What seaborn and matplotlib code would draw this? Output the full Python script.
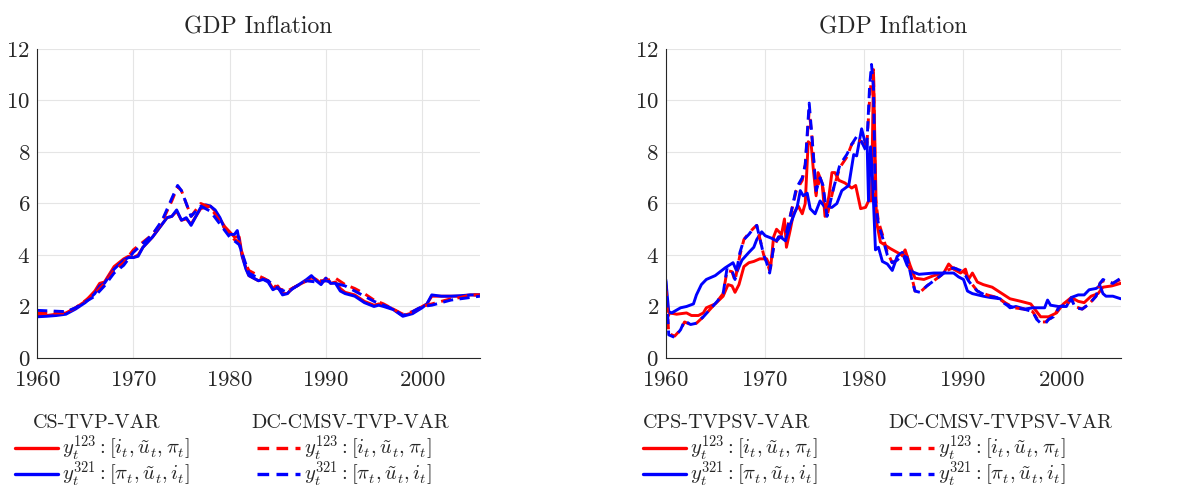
import matplotlib
matplotlib.use("Agg")
import matplotlib.pyplot as plt
from matplotlib.lines import Line2D
import seaborn as sns

# ---- left panel: CS-TVP-VAR vs DC-CMSV-TVP-VAR ----
l_red_x = [1960, 1961, 1962, 1963, 1964, 1965, 1966, 1966.5, 1967, 1968, 1969, 1969.5, 1970, 1970.5, 1971, 1972,
           1973, 1973.5, 1974, 1974.5, 1975, 1975.5, 1976, 1976.5, 1977, 1977.5, 1978, 1978.5, 1979, 1979.5, 1980,
           1980.5, 1981, 1981.3, 1981.7, 1982, 1983, 1983.5, 1984, 1984.5, 1985, 1985.5, 1986, 1986.5, 1987, 1988,
           1988.5, 1989, 1989.5, 1990, 1990.5, 1991, 1991.5, 1992, 1993, 1994, 1995, 1995.5, 1996, 1997, 1998,
           1999, 2000, 2000.5, 2001, 2002, 2003, 2004, 2005, 2006]
l_red_y = [1.65, 1.65, 1.7, 1.75, 1.95, 2.2, 2.6, 2.9, 2.95, 3.55, 3.85, 3.95, 3.9, 4.0, 4.3, 4.7,
           5.2, 5.45, 5.5, 5.7, 5.35, 5.4, 5.2, 5.5, 5.8, 5.85, 5.9, 5.7, 5.4, 5.1, 4.9,
           4.7, 4.7, 4.0, 3.5, 3.2, 3.0, 3.1, 3.0, 2.7, 2.8, 2.5, 2.5, 2.7, 2.8, 3.0,
           3.15, 3.05, 2.9, 3.1, 2.9, 2.95, 2.7, 2.55, 2.45, 2.2, 2.05, 2.1, 2.05, 1.9, 1.65,
           1.75, 2.0, 2.1, 2.4, 2.4, 2.4, 2.4, 2.45, 2.45]

l_blue_x = [1960, 1961, 1962, 1963, 1964, 1965, 1966, 1966.5, 1967, 1968, 1969, 1969.5, 1970, 1970.5, 1971, 1972,
            1973, 1973.5, 1974, 1974.5, 1975, 1975.5, 1976, 1976.5, 1977, 1977.5, 1978, 1978.5, 1979, 1979.5, 1980,
            1980.5, 1980.8, 1981.3, 1981.7, 1982, 1983, 1983.5, 1984, 1984.5, 1985, 1985.5, 1986, 1986.5, 1987, 1988,
            1988.5, 1989, 1989.5, 1990, 1990.5, 1991, 1991.5, 1992, 1993, 1994, 1995, 1995.5, 1996, 1997, 1998,
            1999, 2000, 2000.5, 2001, 2002, 2003, 2004, 2005, 2006]
l_blue_y = [1.6, 1.62, 1.65, 1.7, 1.9, 2.15, 2.5, 2.8, 2.9, 3.45, 3.8, 3.9, 3.9, 3.95, 4.3, 4.7,
            5.2, 5.45, 5.5, 5.75, 5.35, 5.45, 5.15, 5.5, 5.85, 5.95, 5.9, 5.75, 5.45, 5.0, 4.8,
            4.8, 4.95, 3.95, 3.45, 3.2, 3.0, 3.05, 2.95, 2.65, 2.75, 2.45, 2.5, 2.7, 2.8, 3.05,
            3.2, 3.0, 2.85, 3.1, 2.9, 2.9, 2.6, 2.5, 2.4, 2.15, 2.0, 2.05, 2.0, 1.88, 1.62,
            1.72, 1.95, 2.1, 2.45, 2.4, 2.4, 2.42, 2.45, 2.45]

l_red_d_x = [1960, 1963, 1964, 1966, 1967, 1968, 1969, 1970, 1971, 1972, 1973, 1974, 1974.6, 1975, 1976, 1977,
             1978, 1979, 1980, 1980.5, 1981, 1981.5, 1982, 1983, 1984, 1985, 1986, 1987, 1988, 1989, 1990,
             1991, 1992, 1993, 1994, 1995, 1996, 1997, 1998, 1999, 2000, 2001, 2002, 2003, 2004, 2005, 2006]
l_red_d_y = [1.75, 1.75, 1.95, 2.5, 2.9, 3.4, 3.7, 4.2, 4.5, 4.8, 5.3, 6.1, 6.65, 6.5, 5.5, 6.0,
             5.85, 5.3, 4.8, 4.6, 4.5, 3.8, 3.4, 3.2, 3.0, 2.7, 2.6, 2.8, 3.0, 3.0, 3.0,
             3.1, 2.85, 2.7, 2.5, 2.25, 2.1, 1.9, 1.7, 1.8, 2.0, 2.1, 2.2, 2.3, 2.35, 2.45, 2.45]

l_blue_d_x = [1960, 1963, 1964, 1966, 1967, 1968, 1969, 1970, 1971, 1972, 1973, 1974, 1974.6, 1975, 1976, 1977,
              1978, 1979, 1980, 1981, 1982, 1983, 1984, 1985, 1986, 1987, 1988, 1989, 1990, 1991, 1992,
              1993, 1994, 1995, 1996, 1997, 1998, 1999, 2000, 2001, 2002, 2003, 2004, 2005, 2006]
l_blue_d_y = [1.85, 1.8, 1.95, 2.4, 2.8, 3.3, 3.6, 4.1, 4.45, 4.8, 5.35, 6.2, 6.7, 6.5, 5.5, 5.9,
              5.7, 5.2, 4.7, 4.4, 3.3, 3.1, 3.0, 2.7, 2.55, 2.8, 3.0, 2.95, 3.0, 2.9, 2.8,
              2.6, 2.4, 2.2, 2.05, 1.9, 1.65, 1.8, 2.0, 2.05, 2.15, 2.25, 2.3, 2.35, 2.4]

# ---- right panel: CPS-TVPSV-VAR vs DC-CMSV-TVPSV-VAR ----
r_blue_x = [1960, 1960.3, 1960.6, 1961.5, 1962.1, 1962.8, 1963.1, 1963.6, 1964.1, 1965, 1966, 1966.8, 1967.2,
            1967.7, 1968.4, 1968.9, 1969.2, 1969.7, 1970.05, 1970.7, 1971.2, 1971.6, 1972.1, 1972.6, 1973.3,
            1973.6, 1973.9, 1974.3, 1974.6, 1975.1, 1975.6, 1976.1, 1976.8, 1977.3, 1977.8, 1978.5, 1979.0,
            1979.3, 1979.8, 1980.2, 1980.35, 1980.5, 1980.7, 1980.9, 1981.2, 1981.5, 1981.9, 1982.4, 1982.9,
            1983.4, 1983.9, 1984.4, 1984.9, 1985.6, 1987.1, 1989.1, 1989.6, 1990.1, 1990.5, 1991, 1992.1,
            1992.8, 1993.8, 1994.8, 1995.4, 1996.3, 1997.1, 1998.3, 1998.6, 1998.9, 1999.7, 2000.5, 2001.0,
            2001.7, 2002.3, 2002.8, 2003.5, 2003.9, 2004.2, 2004.5, 2005.2, 2006]
r_blue_y = [3.05, 1.8, 1.75, 1.95, 2.0, 2.1, 2.45, 2.85, 3.05, 3.2, 3.5, 3.7, 3.35,
            3.8, 4.1, 4.3, 4.6, 4.9, 4.75, 4.65, 4.55, 4.7, 4.55, 5.2, 5.9,
            6.5, 6.3, 6.4, 5.8, 5.6, 6.1, 5.85, 5.85, 6.0, 6.5, 6.7, 7.9,
            7.85, 8.9, 8.3, 8.4, 6.1, 8.2, 7.0, 4.2, 4.3, 3.75, 3.65, 3.4,
            3.95, 4.1, 3.6, 3.35, 3.25, 3.3, 3.3, 3.15, 3.05, 2.6, 2.5, 2.4,
            2.35, 2.3, 1.95, 2.0, 1.9, 1.95, 1.95, 2.25, 2.05, 2.0, 2.0, 2.35,
            2.45, 2.45, 2.65, 2.7, 2.8, 2.5, 2.4, 2.4, 2.3]

r_red_x = [1960, 1960.4, 1961.1, 1962.1, 1962.6, 1963.3, 1963.8, 1964.1, 1965, 1965.8, 1966.3, 1966.7, 1967,
           1967.4, 1967.9, 1968.4, 1968.9, 1969.5, 1970.2, 1970.6, 1970.9, 1971.2, 1971.7, 1972.0, 1972.2,
           1972.6, 1972.9, 1973.4, 1973.8, 1974.1, 1974.4, 1974.7, 1974.9, 1975.2, 1975.4, 1975.8, 1976.1,
           1976.5, 1976.8, 1977.1, 1977.5, 1978.1, 1978.8, 1979.2, 1979.7, 1980.2, 1980.5, 1980.8, 1981.0,
           1981.3, 1981.7, 1982.7, 1983.4, 1983.9, 1984.2, 1984.7, 1985.2, 1986.1, 1987.1, 1988.1, 1988.6,
           1989.1, 1989.8, 1990.3, 1990.6, 1991, 1991.5, 1992.1, 1993, 1993.8, 1994.8, 1995.9, 1996.9,
           1997.2, 1997.9, 1998.7, 1999.5, 2000.2, 2001, 2001.7, 2002.3, 2003, 2003.7, 2004.2, 2005.1, 2006]
r_red_y = [1.45, 1.75, 1.7, 1.75, 1.65, 1.65, 1.75, 1.95, 2.1, 2.4, 2.85, 2.8, 2.55,
           2.85, 3.55, 3.7, 3.75, 3.85, 3.85, 3.5, 4.7, 5.0, 4.8, 5.4, 4.3,
           5.0, 5.6, 5.9, 5.6, 6.0, 8.4, 8.3, 7.4, 6.3, 7.2, 6.8, 5.5,
           6.3, 7.2, 7.2, 6.9, 6.8, 6.6, 6.7, 5.8, 5.85, 6.1, 6.1, 11.1,
           5.3, 4.5, 4.25, 4.1, 4.0, 4.2, 3.6, 3.1, 3.05, 3.2, 3.3, 3.65,
           3.45, 3.3, 3.45, 3.05, 3.3, 2.95, 2.85, 2.75, 2.55, 2.3, 2.2, 2.1,
           1.95, 1.6, 1.6, 1.75, 2.1, 2.35, 2.2, 2.15, 2.4, 2.5, 2.75, 2.8, 2.9]

r_blue_d_x = [1960, 1960.3, 1960.9, 1961.5, 1961.9, 1962.5, 1963.1, 1963.8, 1964.5, 1965.2, 1965.8, 1966.2,
              1966.7, 1967, 1967.5, 1967.9, 1968.4, 1968.9, 1969.2, 1969.9, 1970.2, 1970.5, 1970.9, 1971.4,
              1972.1, 1972.7, 1973.2, 1973.8, 1974.1, 1974.5, 1974.8, 1975.2, 1975.6, 1975.9, 1976.3, 1976.9,
              1977.6, 1978.3, 1978.8, 1979.3, 1979.8, 1980.3, 1980.6, 1980.8, 1981.0, 1981.2, 1981.5, 1981.9,
              1982.4, 1982.9, 1983.4, 1983.9, 1984.4, 1984.9, 1985.2, 1985.7, 1986.4, 1987.1, 1987.8, 1988.4,
              1989.1, 1989.8, 1990.3, 1990.6, 1991.0, 1991.5, 1992.5, 1993.5, 1994.3, 1995.2, 1996.2, 1997.1,
              1997.5, 1997.9, 1998.4, 1998.7, 1999.2, 1999.8, 2000.5, 2001, 2001.4, 2002.1, 2002.8, 2003.5,
              2003.9, 2004.2, 2004.7, 2005.2, 2006]
r_blue_d_y = [3.0, 0.9, 0.8, 1.1, 1.45, 1.3, 1.35, 1.6, 1.9, 2.2, 2.5, 3.5,
              3.4, 3.05, 4.1, 4.6, 4.8, 5.05, 5.15, 4.0, 3.7, 3.3, 4.3, 4.7,
              4.7, 5.7, 6.6, 7.0, 7.5, 9.9, 8.5, 6.5, 7.0, 6.7, 5.5, 6.5,
              7.5, 7.9, 8.3, 8.6, 8.4, 8.0, 10.5, 11.4, 10.5, 6.0, 5.2, 4.7,
              4.0, 3.7, 3.8, 4.0, 3.9, 3.0, 2.6, 2.55, 2.8, 3.0, 3.2, 3.4,
              3.5, 3.4, 3.2, 3.0, 2.8, 2.6, 2.4, 2.35, 2.1, 1.95, 1.9, 1.8,
              1.5, 1.35, 1.35, 1.5, 1.6, 2.0, 2.05, 2.3, 1.95, 1.9, 2.1, 2.4,
              2.9, 3.05, 2.95, 2.9, 3.1]

r_red_d_x = [1960, 1960.3, 1960.9, 1961.5, 1961.9, 1962.5, 1963.1, 1963.8, 1964.5, 1965.2, 1965.8, 1966.2,
             1966.7, 1967, 1967.5, 1967.9, 1968.4, 1968.9, 1969.2, 1969.9, 1970.2, 1970.5, 1970.9, 1971.4,
             1972.1, 1972.7, 1973.2, 1973.8, 1974.1, 1974.5, 1974.8, 1975.2, 1975.6, 1975.9, 1976.3, 1976.9,
             1977.6, 1978.3, 1978.8, 1979.3, 1979.8, 1980.3, 1980.6, 1980.8, 1981.0, 1981.2, 1981.5, 1981.9,
             1982.4, 1982.9, 1983.4, 1983.9, 1984.4, 1984.9, 1985.2, 1985.7, 1986.4, 1987.1, 1987.8, 1988.4,
             1989.1, 1989.8, 1990.3, 1990.6, 1991.0, 1991.5, 1992.5, 1993.5, 1994.3, 1995.2, 1996.2, 1997.1,
             1997.5, 1997.9, 1998.4, 1998.7, 1999.2, 1999.8, 2000.5, 2001, 2001.4, 2002.1, 2002.8, 2003.5,
             2003.9, 2004.2, 2004.7, 2005.2, 2006]
r_red_d_y = [2.8, 0.95, 0.85, 1.1, 1.4, 1.3, 1.35, 1.6, 1.9, 2.2, 2.5, 3.4,
             3.35, 3.0, 4.0, 4.6, 4.85, 5.05, 5.15, 4.0, 3.75, 3.4, 4.3, 4.7,
             4.75, 5.7, 6.5, 6.9, 7.5, 9.6, 8.5, 6.4, 7.0, 6.6, 5.5, 6.5,
             7.4, 7.8, 8.3, 8.5, 8.4, 8.1, 10.0, 10.9, 11.2, 6.2, 5.3, 4.8,
             4.1, 3.7, 3.8, 4.0, 3.95, 3.1, 2.6, 2.55, 2.8, 3.0, 3.2, 3.4,
             3.5, 3.4, 3.3, 3.05, 2.85, 2.6, 2.45, 2.35, 2.15, 1.95, 1.9, 1.8,
             1.55, 1.4, 1.4, 1.5, 1.6, 2.0, 2.05, 2.3, 2.0, 1.9, 2.1, 2.4,
             2.9, 3.0, 2.95, 2.9, 3.05]

titles = ["GDP Inflation", "GDP Inflation"]
left_models = ["CS-TVP-VAR", "DC-CMSV-TVP-VAR"]
right_models = ["CPS-TVPSV-VAR", "DC-CMSV-TVPSV-VAR"]
lab123 = r"$y_t^{123}: [i_t, \tilde{u}_t, \pi_t]$"
lab321 = r"$y_t^{321}: [\pi_t, \tilde{u}_t, i_t]$"

sns.set_style("whitegrid")
plt.rcParams["font.family"] = "serif"
plt.rcParams["font.serif"] = ["cmr10", "DejaVu Serif"]
plt.rcParams["mathtext.fontset"] = "cm"
plt.rcParams["axes.formatter.use_mathtext"] = True

RED = "#ff0000"
BLUE = "#0000ff"
LW = 2.1
DASH = (3.5, 2.2)

fig = plt.figure(figsize=(11.84, 4.9), dpi=100)
axL = fig.add_axes([0.0313, 0.2694, 0.374, 0.6306])
axR = fig.add_axes([0.5623, 0.2694, 0.3843, 0.6306])


def draw(ax, rx, ry, bx, by, rdx, rdy, bdx, bdy, title):
    sns.lineplot(x=rx, y=ry, ax=ax, color=RED, lw=LW, estimator=None)
    sns.lineplot(x=bx, y=by, ax=ax, color=BLUE, lw=LW, estimator=None)
    sns.lineplot(x=rdx, y=rdy, ax=ax, color=RED, lw=LW, estimator=None).lines[-1].set_dashes(DASH)
    sns.lineplot(x=bdx, y=bdy, ax=ax, color=BLUE, lw=LW, estimator=None).lines[-1].set_dashes(DASH)
    ax.set_xlim(1960, 2006)
    ax.set_ylim(0, 12)
    ax.set_xticks([1960, 1970, 1980, 1990, 2000])
    ax.set_yticks([0, 2, 4, 6, 8, 10, 12])
    ax.set_title(title, fontsize=17, pad=11)
    ax.grid(True, color="#e5e5e5", lw=0.8)
    for s in ["top", "right"]:
        ax.spines[s].set_visible(False)
    for s in ["left", "bottom"]:
        ax.spines[s].set_color("#262626")
        ax.spines[s].set_linewidth(0.8)
    ax.tick_params(direction="in", length=4, width=0.8, colors="#262626", labelsize=16.5)
    ax.tick_params(axis="y", pad=5)
    ax.tick_params(axis="x", pad=9)
    ax.set_xlabel("")
    ax.set_ylabel("")


draw(axL, l_red_x, l_red_y, l_blue_x, l_blue_y, l_red_d_x, l_red_d_y, l_blue_d_x, l_blue_d_y, titles[0])
draw(axR, r_red_x, r_red_y, r_blue_x, r_blue_y, r_red_d_x, r_red_d_y, r_blue_d_x, r_blue_d_y, titles[1])


def add_legend(x0, xc, title, dashed):
    ls = (0, DASH) if dashed else "-"
    hs = [Line2D([], [], color=RED, lw=LW + 0.3, linestyle=ls),
          Line2D([], [], color=BLUE, lw=LW + 0.3, linestyle=ls)]
    fig.legend(hs, [lab123, lab321], loc="upper left",
               bbox_to_anchor=(x0, 0.114), frameon=False, fontsize=14.8,
               handlelength=2.1, handletextpad=0.2,
               labelspacing=-0.16, borderpad=0, borderaxespad=0)
    fig.text(xc, 0.126, title, ha="center", va="baseline", fontsize=14.5)


add_legend(0.0127, 97 / 1184, left_models[0], False)
add_legend(0.217, 350 / 1184, left_models[1], True)
add_legend(0.543, 727 / 1184, right_models[0], False)
add_legend(0.752, 1000 / 1184, right_models[1], True)

fig.savefig("out.png", dpi=100)
